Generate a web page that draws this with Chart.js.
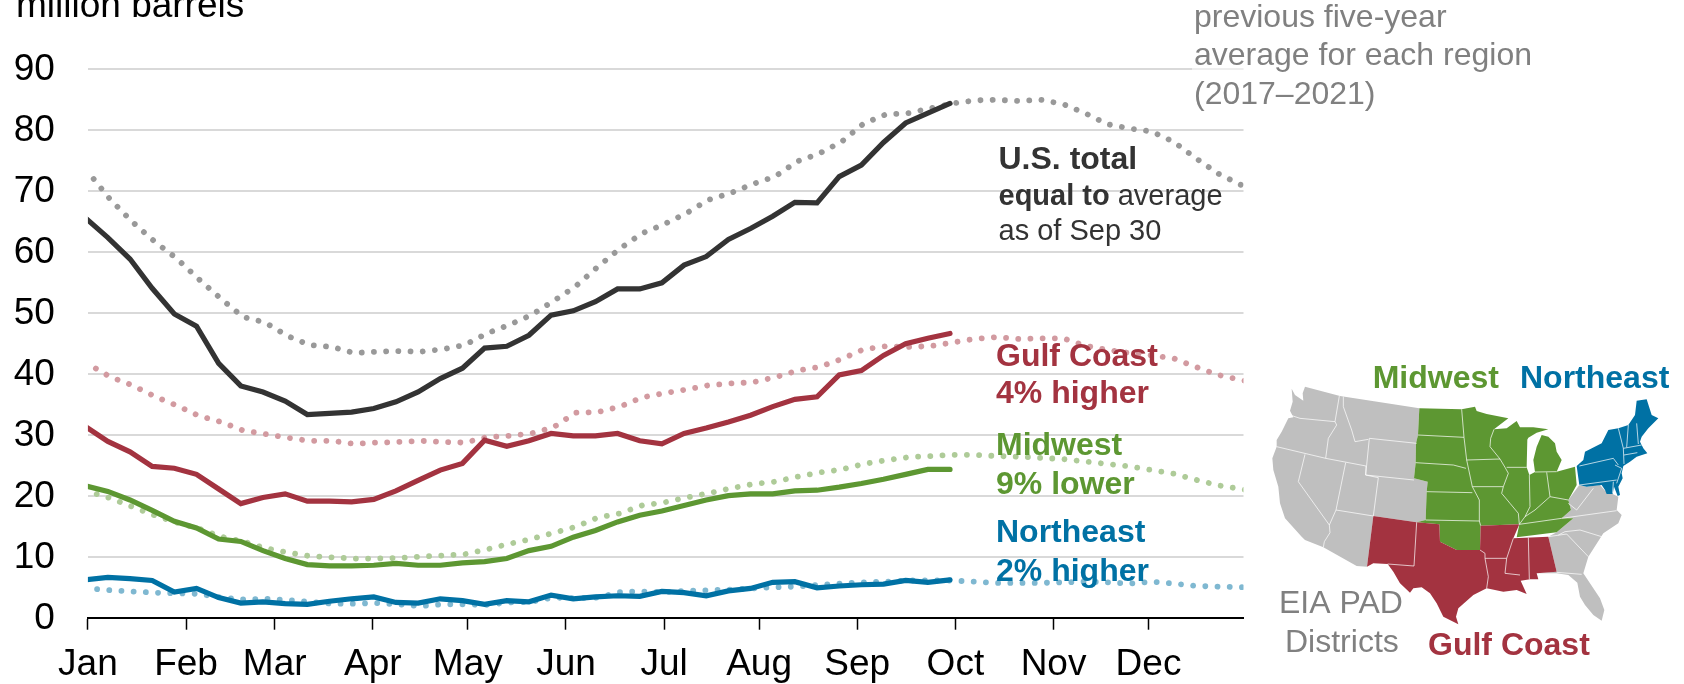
<!DOCTYPE html>
<html><head><meta charset="utf-8">
<style>html,body{margin:0;padding:0;background:#fff;overflow:hidden}canvas{display:block}</style>
<script src="https://cdn.jsdelivr.net/npm/chart.js@4/dist/chart.umd.min.js"></script>
</head><body>
<canvas id="c" width="1684" height="684" style="width:1684px;height:684px"></canvas>
<script>
const monthLabels=['Jan','Feb','Mar','Apr','May','Jun','Jul','Aug','Sep','Oct','Nov','Dec'];
const monthStarts=[0,31,59,90,120,151,182,212,243,274,305,335];
const yTicks=[0,10,20,30,40,50,60,70,80,90];
const totalActual=[65.5,62.3,58.8,54,49.8,47.8,41.7,38,37,35.5,33.3,33.5,33.7,34.3,35.4,37,39.2,40.9,44.2,44.5,46.3,49.6,50.3,51.8,53.9,53.9,54.9,57.8,59.2,62,63.8,65.8,68.1,68,72.3,74.2,77.9,81.1,82.7,84.3];
const gulfActual=[31.3,28.9,27.2,24.8,24.5,23.5,21.1,18.7,19.7,20.3,19.1,19.1,19,19.4,20.8,22.5,24.2,25.3,29.1,28.1,29,30.2,29.8,29.8,30.2,29,28.5,30.2,31.1,32.1,33.2,34.6,35.8,36.2,39.8,40.5,43,44.9,45.8,46.6];
const midwestActual=[21.6,20.7,19.3,17.6,15.8,14.7,12.9,12.5,11,9.7,8.7,8.5,8.5,8.6,8.9,8.6,8.6,9,9.2,9.7,11,11.7,13.2,14.3,15.7,16.8,17.5,18.4,19.3,20,20.3,20.3,20.8,20.9,21.4,22,22.7,23.5,24.3,24.3];
const northeastActual=[6.2,6.6,6.4,6.1,4.2,4.8,3.3,2.4,2.6,2.3,2.2,2.7,3.1,3.4,2.5,2.4,3.1,2.8,2.2,2.8,2.6,3.7,3.1,3.4,3.6,3.5,4.3,4.1,3.6,4.4,4.8,5.8,5.9,4.9,5.2,5.4,5.5,6.1,5.8,6.2];
const totalAvg=[73.1,68.6,64.9,61.7,58.9,55.5,52.3,49.3,48.4,46.2,44.7,44.4,43.4,43.6,43.7,43.6,44,44.7,46.6,48,49.6,51.9,54.3,57.5,60.5,63,64.5,66.3,68.5,69.6,71.1,72.3,74.8,76.1,78,81,82.5,82.7,83.5,84.3,84.8,84.9,84.7,84.9,84.2,82.7,80.9,80.2,79.7,78,75.3,72.8,71,69.5];
const gulfAvg=[41.6,39.5,38.1,36.3,34.8,33.1,32.1,30.7,30.1,29.5,29,29,28.5,28.7,28.8,29,28.8,28.7,29.6,29.8,30.2,31.2,33.6,33.7,34.6,36.1,36.8,37.4,38.1,38.4,38.6,39.4,40.5,41.1,42.4,44,44.5,44.4,44.5,45.1,45.7,46,45.7,45.8,45.8,44.6,43.9,43.4,43,42.5,41.1,39.8,39,38.3];
const midwestAvg=[20.7,19.6,18.2,16.8,15.6,14.6,13.3,12.5,11.4,10.7,10.1,9.9,9.7,9.7,9.8,10,10.2,10.4,11.2,12.1,12.9,13.9,14.9,16.4,17.1,18.4,18.9,19.7,20.4,21.2,21.9,22.3,23.1,23.8,24.3,25.2,25.8,26.3,26.5,26.7,26.7,26.5,26.4,26.2,26,25.6,25.2,24.8,24.2,23.6,22.6,21.7,21.1,20.5];
const northeastAvg=[4.8,4.5,4.3,4.1,4,3.9,3.3,3,3.1,2.9,2.6,2.3,2.3,2.4,2.2,1.9,2.2,2.2,2.1,2.5,2.6,3.3,3.2,3.3,4.2,4.3,4.2,4.4,4.5,4.6,4.8,5,5.1,5.4,5.6,5.8,5.9,6.1,6.1,6.1,5.9,5.7,5.7,5.7,5.8,5.9,5.8,5.6,5.9,5.6,5.2,5.1,5,5];

const FONT='"Liberation Sans", Arial, sans-serif';
const weekly=(a,off)=>a.map((y,i)=>({x:i*7+off,y}));
const solid=(d,c)=>({data:weekly(d,-0.7),borderColor:c,borderWidth:5.2,pointRadius:0,tension:0,borderCapStyle:'round',borderJoinStyle:'miter',clip:{left:0,right:8,top:8,bottom:8},order:0,fill:false});
const dotted=(d,c)=>({data:weekly(d,0),borderColor:c,borderWidth:5.8,pointRadius:0,tension:0,borderCapStyle:'round',borderDash:[0.01,12.2],borderDashOffset:3,clip:0,order:1,fill:false});

/* Base map of the PAD districts: a decorative inset, not chart data */
const mapBox={x:1240,y:340,s:1/3};
const mapShapes=[
 {fill:'#bfbfbf',pts:[[155,146],[165,165],[190,182],[188,160],[195,140],[300,168],[538,205],[534,285],[528,310],[527,368],[522,415],[563,425],[560,455],[557,540],[530,547],[400,528],[381,680],[350,678],[250,622],[195,600],[185,590],[135,535],[120,490],[115,440],[100,390],[97,355],[110,320],[110,300],[125,275],[145,235],[160,232],[150,212],[158,185]]},
 {fill:'#bfbfbf',pts:[[985,480],[1018,435],[1040,440],[1080,435],[1095,452],[1118,462],[1135,470],[1130,510],[1145,525],[1135,550],[1090,580],[1045,650],[1030,700],[1060,745],[1080,775],[1093,810],[1085,842],[1060,825],[1035,795],[1020,770],[1012,728],[985,705],[950,700],[890,700],[950,695],[925,590],[950,577],[1000,535],[965,535],[993,510]]},
 {fill:'#5d9732',pts:[[538,205],[665,208],[705,200],[710,213],[740,222],[805,235],[762,268],[800,265],[830,243],[840,262],[880,262],[925,268],[890,278],[865,293],[850,322],[862,298],[860,382],[868,405],[885,396],[880,360],[890,320],[905,285],[925,290],[945,310],[950,335],[965,360],[950,395],[1005,380],[1010,435],[985,480],[993,510],[965,535],[1000,535],[950,577],[830,592],[838,553],[722,557],[720,630],[650,630],[600,605],[598,553],[530,547],[557,540],[560,455],[563,425],[522,415],[527,368],[528,310],[534,285]]},
 {fill:'#a33340',pts:[[400,528],[530,547],[598,553],[600,605],[650,630],[720,630],[722,557],[838,553],[820,595],[925,590],[950,695],[890,700],[895,718],[870,718],[842,722],[860,762],[830,750],[790,755],[740,745],[700,765],[655,805],[648,830],[655,853],[610,830],[590,790],[570,760],[545,742],[520,745],[510,758],[480,730],[460,695],[443,672],[400,670],[381,680]]},
 {fill:'#0071a4',pts:[[1010,378],[1030,360],[1035,335],[1085,310],[1105,270],[1135,265],[1165,255],[1185,225],[1190,182],[1220,178],[1235,225],[1255,235],[1225,265],[1205,290],[1200,305],[1210,325],[1222,340],[1190,350],[1170,365],[1150,378],[1145,400],[1148,415],[1135,440],[1140,465],[1133,468],[1122,440],[1118,462],[1100,462],[1095,450],[1085,435],[1040,440],[1018,435]]}
];
const mapBorders=[
 [[150,225],[180,235],[285,245]],[[298,168],[285,245],[290,255],[265,295],[257,355]],[[110,320],[257,355],[378,378]],
 [[310,170],[310,200],[335,270],[345,305],[385,298]],[[388,295],[530,310]],[[388,295],[377,405],[522,420]],[[378,378],[377,405],[415,413],[400,528]],
 [[195,343],[175,425],[268,555],[270,578],[253,605],[250,622]],[[317,368],[288,510],[268,555]],[[288,510],[400,528]],
 [[534,285],[672,292]],[[665,208],[672,292],[680,360],[697,440],[718,480],[718,543]],[[527,368],[640,375],[678,385]],[[680,360],[780,357]],
 [[762,268],[752,295],[750,320],[780,357],[795,382],[805,400],[790,440],[785,460],[810,490],[835,520],[838,553]],[[697,440],[790,440]],[[560,455],[697,458]],[[557,540],[718,543],[722,557]],
 [[800,382],[860,382]],[[868,405],[870,500],[855,530],[838,553]],[[920,397],[930,470]],[[885,396],[950,395]],[[855,530],[885,510],[930,470],[985,480]],[[838,553],[965,535]],
 [[530,547],[522,678],[443,672]],[[720,630],[735,640],[735,655],[745,710],[740,745]],[[735,655],[800,655]],[[820,595],[800,655],[795,700],[840,705]],[[865,593],[868,718]],
 [[1018,378],[1120,355],[1135,375]],[[1135,265],[1150,325],[1152,372]],[[1165,255],[1160,322]],[[1190,250],[1195,312]],[[1150,325],[1205,315]],[[1152,345],[1192,338]],[[1125,375],[1145,385],[1130,430]],[[1018,435],[1130,420]],[[1120,425],[1118,460]],
 [[965,535],[1130,512]],[[955,585],[975,575],[1020,570],[1085,590]],[[980,582],[1045,650]],[[950,697],[1025,703]],[[985,490],[1010,510],[1060,445]],[[925,590],[980,582]]
];
const notes=[
 {x:998.5,y:169,runs:[{t:'U.S. total',w:'bold',s:32}],c:'#333333'},
 {x:998.5,y:205,runs:[{t:'equal to',w:'bold',s:29},{t:' average',w:'normal',s:29}],c:'#333333'},
 {x:998.5,y:240,runs:[{t:'as of Sep 30',w:'normal',s:29}],c:'#333333'},
 {x:996,y:366,runs:[{t:'Gulf Coast',w:'bold',s:32}],c:'#a33340'},
 {x:996,y:403,runs:[{t:'4% higher',w:'bold',s:32}],c:'#a33340'},
 {x:996,y:455,runs:[{t:'Midwest',w:'bold',s:32}],c:'#5d9732'},
 {x:996,y:494,runs:[{t:'9% lower',w:'bold',s:32}],c:'#5d9732'},
 {x:996,y:542,runs:[{t:'Northeast',w:'bold',s:32}],c:'#0071a4'},
 {x:996,y:581,runs:[{t:'2% higher',w:'bold',s:32}],c:'#0071a4'},
 {x:1194,y:27,runs:[{t:'previous five-year',w:'normal',s:32}],c:'#808080'},
 {x:1194,y:65,runs:[{t:'average for each region',w:'normal',s:32}],c:'#808080'},
 {x:1194,y:104,runs:[{t:'(2017–2021)',w:'normal',s:32}],c:'#808080'},
 {x:16,y:17,runs:[{t:'million barrels',w:'normal',s:37}],c:'#000000'},
 {x:1372.7,y:388,runs:[{t:'Midwest',w:'bold',s:32}],c:'#5d9732'},
 {x:1520,y:388,runs:[{t:'Northeast',w:'bold',s:32}],c:'#0071a4'},
 {x:1279,y:613,runs:[{t:'EIA PAD',w:'normal',s:32}],c:'#808080'},
 {x:1285,y:652,runs:[{t:'Districts',w:'normal',s:32}],c:'#808080'},
 {x:1428,y:655,runs:[{t:'Gulf Coast',w:'bold',s:32}],c:'#a33340'}
];
const overlay={id:'overlay',afterDatasetsDraw(chart){
 const g=chart.ctx; g.save();
 g.fillStyle='rgba(255,255,255,.55)'; g.fillRect(1192,0,60,112);
 const P=p=>[mapBox.x+p[0]*mapBox.s,mapBox.y+p[1]*mapBox.s];
 const trace=a=>{g.beginPath();a.forEach((p,i)=>{const q=P(p);i?g.lineTo(q[0],q[1]):g.moveTo(q[0],q[1]);});};
 mapShapes.forEach(m=>{trace(m.pts);g.closePath();g.fillStyle=m.fill;g.fill();});
 g.strokeStyle='rgba(255,255,255,.7)';g.lineWidth=1;g.lineJoin='round';
 mapBorders.forEach(b=>{trace(b);g.stroke();});
 g.textBaseline='alphabetic';g.textAlign='left';
 notes.forEach(n=>{let x=n.x;g.fillStyle=n.c;n.runs.forEach(r=>{g.font=`${r.w} ${r.s}px ${FONT}`;g.fillText(r.t,x,n.y);x+=g.measureText(r.t).width;});});
 g.restore();
}};
new Chart(document.getElementById('c'),{
 type:'line',
 data:{datasets:[
  solid(totalActual,'#333333'),solid(gulfActual,'#a33340'),solid(midwestActual,'#5d9732'),solid(northeastActual,'#0071a4'),
  dotted(totalAvg,'#999999'),dotted(gulfAvg,'#d29aa0'),dotted(midwestAvg,'#aecb98'),dotted(northeastAvg,'#7fb8d1')
 ]},
 options:{
  responsive:false,animation:false,devicePixelRatio:1,
  layout:{padding:{top:68.7,right:440.5,bottom:0,left:0}},
  plugins:{legend:{display:false},tooltip:{enabled:false},title:{display:false}},
  scales:{
   x:{type:'linear',min:0,max:365,
    afterBuildTicks:s=>{s.ticks=monthStarts.map(v=>({value:v}));},
    afterFit:s=>{s.height=66.3;},
    border:{display:true,color:'#000',width:2},
    grid:{drawOnChartArea:false,drawTicks:true,tickLength:12,tickColor:'#000',tickWidth:1.5},
    ticks:{autoSkip:false,maxRotation:0,minRotation:0,padding:13,color:'#000',font:{family:FONT,size:37},callback:(v,i)=>monthLabels[i]}},
   y:{type:'linear',min:0,max:90,
    afterBuildTicks:s=>{s.ticks=yTicks.map(v=>({value:v}));},
    afterFit:s=>{s.width=87.9;},
    border:{display:false},
    grid:{color:c=>c.tick&&c.tick.value===0?'rgba(0,0,0,0)':'#d9d9d9',lineWidth:2,drawTicks:false},
    ticks:{padding:33,labelOffset:1.5,color:'#000',font:{family:FONT,size:37}}}
  }
 },
 plugins:[overlay]
});
</script>
</body></html>
